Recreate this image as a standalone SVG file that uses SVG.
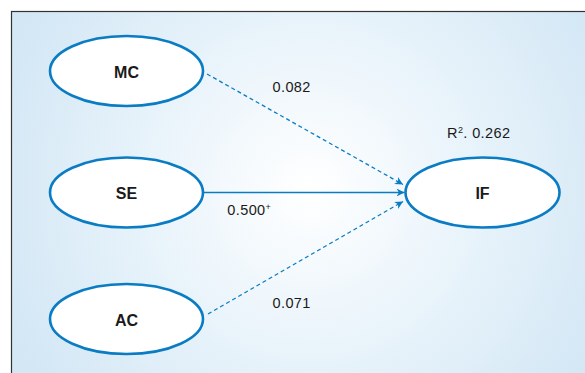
<svg xmlns="http://www.w3.org/2000/svg" width="585" height="373" viewBox="0 0 585 373">
  <defs>
    <radialGradient id="bg" cx="310" cy="190" r="330" gradientUnits="userSpaceOnUse">
      <stop offset="0" stop-color="#ffffff"/>
      <stop offset="0.55" stop-color="#e6f2fa"/>
      <stop offset="1" stop-color="#d3e7f5"/>
    </radialGradient>
    <marker id="arrow" viewBox="0 0 10 10" refX="10" refY="5" markerWidth="8" markerHeight="8" markerUnits="userSpaceOnUse" orient="auto">
      <path d="M0,0 L10,5 L0,10 L3,5 Z" fill="#0a7cc4"/>
    </marker>
    <style>
      .node ellipse { fill: #ffffff; stroke: #0a7cc4; stroke-width: 2.6; }
      .node text { font-family: "Liberation Sans", Arial, sans-serif; font-weight: bold; font-size: 16px; fill: #1a1a1a; text-anchor: middle; }
      .edge { stroke: #0a7cc4; stroke-width: 1.3; fill: none; marker-end: url(#arrow); }
      .dash { stroke-dasharray: 4 3; }
      .lbl { font-family: "Liberation Sans", Arial, sans-serif; font-size: 14.5px; fill: #1a1a1a; letter-spacing: 0.4px; }
    </style>
  </defs>

  <!-- panel -->
  <rect x="11.5" y="11.5" width="600" height="400" fill="url(#bg)" stroke="#333333" stroke-width="1.2"/>

  <!-- connectors -->
  <g id="connectors">
    <line class="edge dash" x1="207" y1="74" x2="403" y2="184.5"/>
    <line class="edge" x1="204" y1="192.5" x2="404.5" y2="192.5"/>
    <line class="edge dash" x1="208" y1="314" x2="403" y2="201.5"/>
    <text class="lbl" x="272.5" y="91.7">0.082</text>
    <text class="lbl" x="227.3" y="215">0.500<tspan font-size="9" dy="-5.5">+</tspan></text>
    <text class="lbl" x="272.5" y="307.7">0.071</text>
  </g>

  <g id="MC" class="node">
    <ellipse cx="126.5" cy="71" rx="76.5" ry="35"/>
    <text x="126.5" y="77.5">MC</text>
  </g>
  <g id="SE" class="node">
    <ellipse cx="126.5" cy="192.5" rx="76.5" ry="35"/>
    <text x="126.5" y="199">SE</text>
  </g>
  <g id="AC" class="node">
    <ellipse cx="126.5" cy="319" rx="76.5" ry="35"/>
    <text x="126.5" y="325.5">AC</text>
  </g>
  <g id="IF" class="node">
    <ellipse cx="482.5" cy="192.5" rx="77" ry="35"/>
    <text x="482.5" y="199">IF</text>
  </g>

  <text class="lbl" x="447" y="138">R<tspan font-size="9" dy="-5.5">2</tspan><tspan dy="5.5">. 0.262</tspan></text>
</svg>
